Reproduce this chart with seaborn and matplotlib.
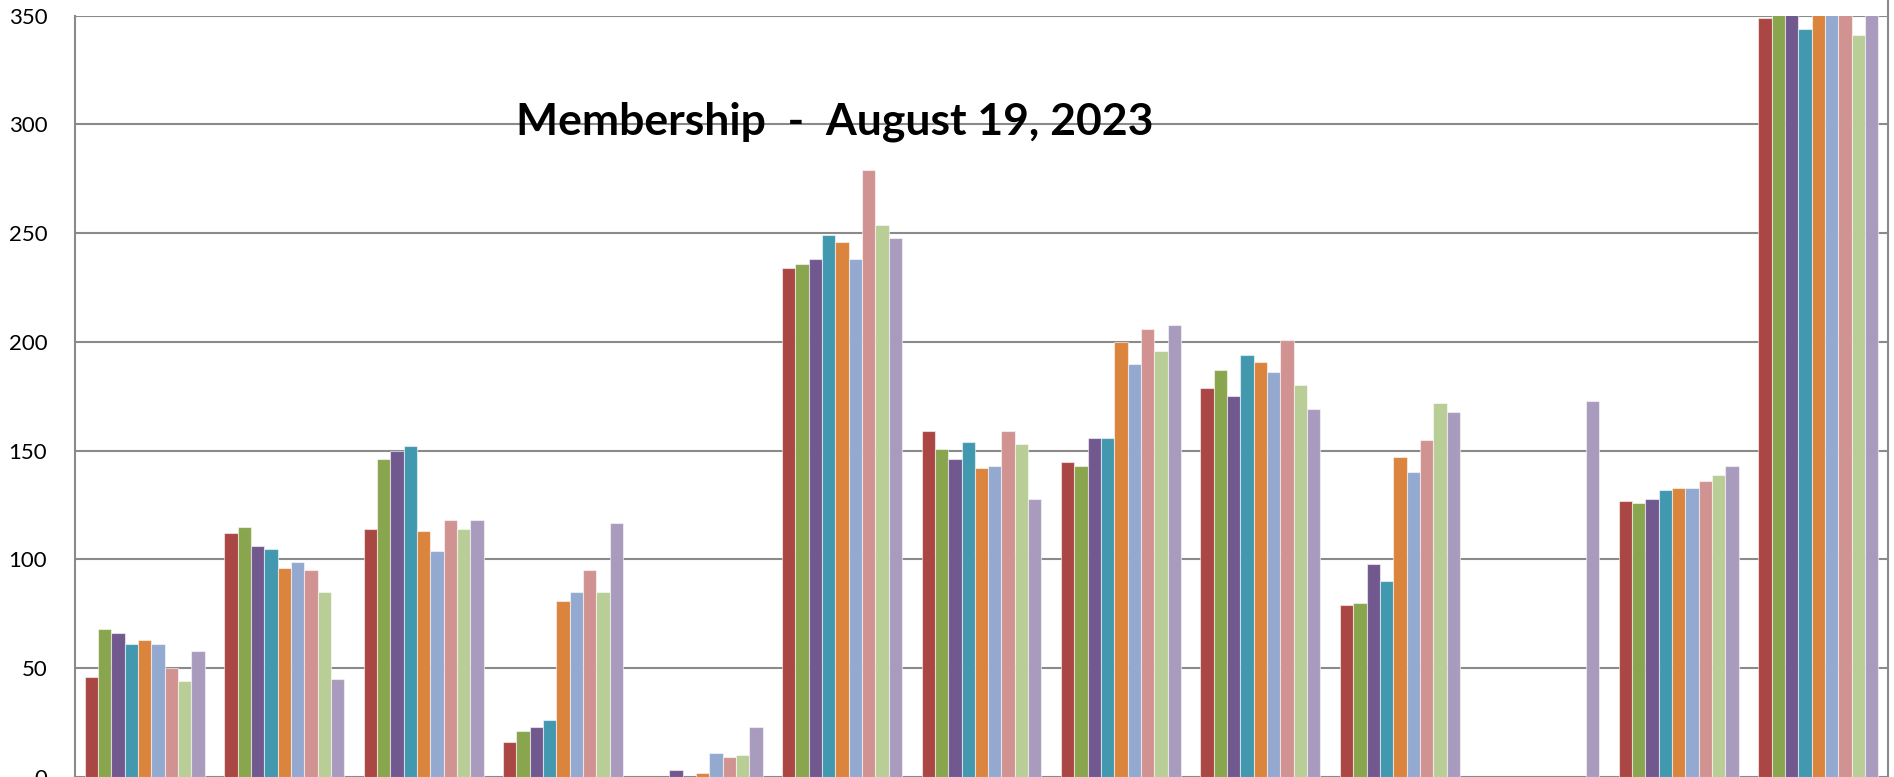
import numpy as np
import pandas as pd
import matplotlib
matplotlib.use("Agg")
import matplotlib.pyplot as plt
import seaborn as sns
from matplotlib.lines import Line2D

groups = ["G1", "G2", "G3", "G4", "G5", "G6", "G7", "G8", "G9", "G10", "G11", "G12", "G13"]
series = ["S1", "S2", "S3", "S4", "S5", "S6", "S7", "S8", "S9"]
colors = ["#AA4643", "#89A54E", "#71588F", "#4198AF", "#DB843D",
          "#93A9CF", "#D19392", "#B9CD96", "#A99BBD"]
nan = np.nan
s1 = [46, 112, 114, 16, nan, 234, 159, 145, 179, 79, nan, 127, 349]
s2 = [68, 115, 146, 21, nan, 236, 151, 143, 187, 80, nan, 126, 356]
s3 = [66, 106, 150, 23, 3, 238, 146, 156, 175, 98, nan, 128, 362]
s4 = [61, 105, 152, 26, nan, 249, 154, 156, 194, 90, nan, 132, 344]
s5 = [63, 96, 113, 81, 2, 246, 142, 200, 191, 147, nan, 133, 360]
s6 = [61, 99, 104, 85, 11, 238, 143, 190, 186, 140, nan, 133, 365]
s7 = [50, 95, 118, 95, 9, 279, 159, 206, 201, 155, nan, 136, 368]
s8 = [44, 85, 114, 85, 10, 254, 153, 196, 180, 172, nan, 139, 341]
s9 = [58, 45, 118, 117, 23, 248, 128, 208, 169, 168, 173, 143, 372]
title = "Membership  -  August 19, 2023"

values = [s1, s2, s3, s4, s5, s6, s7, s8, s9]
rows = []
for sname, vals in zip(series, values):
    for g, v in zip(groups, vals):
        rows.append({"group": g, "series": sname, "members": v})
df = pd.DataFrame(rows)

sns.set_style("white")
plt.rcParams["font.family"] = ["Lato", "DejaVu Sans"]

W, H = 1894, 777
fig = plt.figure(figsize=(W / 100, H / 100), dpi=100)
ax = fig.add_axes([75 / W, 0.0, (1888 - 75) / W, (777 - 15.7) / H])

grid_c = "#8A8A8A"
ax.set_axisbelow(True)
ax.yaxis.grid(True, color=grid_c, linewidth=1.5)
ax.xaxis.grid(False)

sns.barplot(data=df, x="group", y="members", hue="series", order=groups,
            hue_order=series, palette=colors, width=0.86, gap=0,
            saturation=1, edgecolor=(1, 1, 1, 0.55), linewidth=0.8,
            legend=False, ax=ax, errorbar=None)

ax.set_ylim(0, 350)
ax.set_xlim(-0.5, len(groups) - 0.5)
ax.set_yticks(np.arange(0, 351, 50))
ax.tick_params(axis="y", length=0, pad=20, labelsize=16, labelcolor="black")
ax.tick_params(axis="x", length=0, labelbottom=False)
ax.set_xlabel("")
ax.set_ylabel("")

for side in ["top", "bottom", "right"]:
    ax.spines[side].set_visible(False)
ax.spines["left"].set_color(grid_c)
ax.spines["left"].set_linewidth(1.5)

fig.add_artist(Line2D([1887.5 / W, 1887.5 / W], [0, 1], color=grid_c,
                      linewidth=1.5, transform=fig.transFigure))

fig.text(835 / W, 1 - 134 / H, title, ha="center", va="baseline",
         fontsize=32, fontweight="bold", color="black")

fig.savefig("out.png", dpi=100)
